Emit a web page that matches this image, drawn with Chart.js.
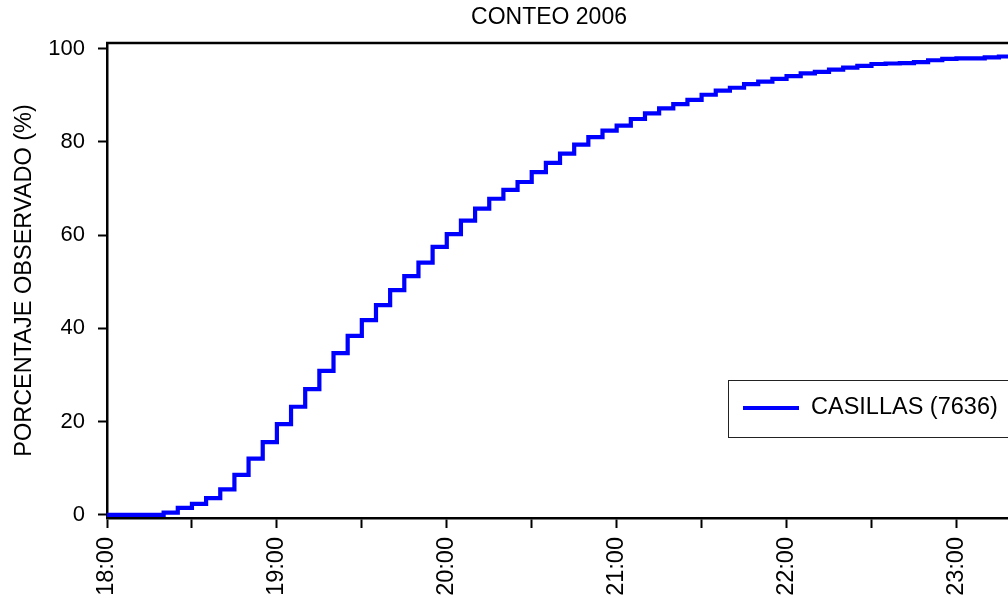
<!DOCTYPE html>
<html><head><meta charset="utf-8">
<script src="https://cdn.jsdelivr.net/npm/chart.js@4.4.0/dist/chart.umd.min.js"></script>
<style>
html,body{margin:0;padding:0;overflow:hidden;background:#fff;width:1008px;height:598px}
#wrap{position:absolute;left:0;top:0;width:1100px;height:598px}
</style>
</head><body><div id="wrap"><canvas id="c" width="1100" height="598"></canvas></div>
<script>
const chartTitle = 'CONTEO 2006';
const yAxisTitle = 'PORCENTAJE OBSERVADO (%)';
const seriesLabel = 'CASILLAS (7636)';

const times = ['18:00','18:05','18:10','18:15','18:20','18:25','18:30','18:35','18:40','18:45','18:50','18:55',
  '19:00','19:05','19:10','19:15','19:20','19:25','19:30','19:35','19:40','19:45','19:50','19:55',
  '20:00','20:05','20:10','20:15','20:20','20:25','20:30','20:35','20:40','20:45','20:50','20:55',
  '21:00','21:05','21:10','21:15','21:20','21:25','21:30','21:35','21:40','21:45','21:50','21:55',
  '22:00','22:05','22:10','22:15','22:20','22:25','22:30','22:35','22:40','22:45','22:50','22:55',
  '23:00','23:05','23:10','23:15','23:20'];
const pct = [0,0,0,0,0.5,1.5,2.4,3.6,5.5,8.6,12.1,15.6,
  19.5,23.2,27.0,30.9,34.7,38.4,41.8,45.0,48.2,51.2,54.1,57.5,
  60.2,63.1,65.7,67.8,69.7,71.4,73.5,75.5,77.5,79.4,81.0,82.4,
  83.5,84.9,86.1,87.2,88.1,89.0,90.1,91.0,91.6,92.4,92.9,93.5,
  94.1,94.7,95.0,95.5,95.9,96.3,96.7,96.8,96.9,97.1,97.5,97.8,
  97.9,97.9,98.1,98.3,98.3];

const xTickLabels = ['18:00','19:00','20:00','21:00','22:00','23:00'];
const yTickValues = [0,20,40,60,80,100];

const toMin = s => { const p = s.split(':').map(Number); return p[0]*60 + p[1]; };
const base = toMin(xTickLabels[0]);
const xMinutes = times.map(t => toMin(t) - base);
const labelMap = {};
xTickLabels.forEach(l => { labelMap[toMin(l) - base] = l; });
const xTickValues = [];
xTickLabels.forEach(l => { const m = toMin(l) - base; xTickValues.push(m, m + 30); });

const FONT = '"Liberation Sans", Arial, sans-serif';

const frame = {
  id: 'frame',
  beforeDatasetsDraw(chart) {
    const {ctx, chartArea: a} = chart;
    ctx.save();
    ctx.strokeStyle = '#000';
    ctx.lineWidth = 2.5;
    ctx.beginPath();
    ctx.moveTo(a.left - 1, a.top);
    ctx.lineTo(a.right, a.top);
    ctx.lineTo(a.right, a.bottom);
    ctx.stroke();
    ctx.restore();
  }
};

const legendBox = {
  id: 'legendBox',
  afterDraw(chart) {
    const ctx = chart.ctx;
    const ds = chart.data.datasets[0];
    ctx.save();
    ctx.fillStyle = '#fff';
    ctx.fillRect(728.5, 380.5, 400, 57);
    ctx.strokeStyle = '#222';
    ctx.lineWidth = 1;
    ctx.strokeRect(728.5, 380.5, 400, 57);
    ctx.strokeStyle = ds.borderColor;
    ctx.lineWidth = 4;
    ctx.beginPath();
    ctx.moveTo(743, 408);
    ctx.lineTo(799, 408);
    ctx.stroke();
    ctx.fillStyle = '#000';
    ctx.font = '23.5px ' + FONT;
    ctx.textBaseline = 'middle';
    ctx.textAlign = 'left';
    ctx.fillText(ds.label, 811, 408);
    ctx.restore();
  }
};

new Chart(document.getElementById('c'), {
  type: 'line',
  data: {
    datasets: [{
      label: seriesLabel,
      data: xMinutes.map((x, i) => ({x: x, y: pct[i]})),
      borderColor: '#0000ff',
      backgroundColor: '#0000ff',
      borderWidth: 4.2,
      stepped: true,
      pointRadius: 0,
      fill: false,
      borderJoinStyle: 'miter',
      borderCapStyle: 'butt'
    }]
  },
  options: {
    responsive: false,
    animation: false,
    devicePixelRatio: 1,
    layout: {padding: {left: 0, right: 2, top: 0, bottom: 0}},
    plugins: {
      legend: {display: false},
      tooltip: {enabled: false},
      title: {
        display: true,
        text: chartTitle,
        color: '#000',
        font: {family: FONT, size: 23, weight: 'normal'},
        padding: {top: 4, bottom: 11.4}
      }
    },
    scales: {
      x: {
        type: 'linear',
        min: 0,
        max: 350,
        afterBuildTicks: s => { s.ticks = xTickValues.map(v => ({value: v})); },
        afterFit: s => { s.height = 80; },
        ticks: {
          autoSkip: false,
          maxRotation: 90,
          minRotation: 90,
          padding: 9,
          color: '#000',
          font: {family: FONT, size: 23.5},
          callback: v => (labelMap[v] !== undefined ? labelMap[v] : '')
        },
        grid: {drawOnChartArea: false, drawTicks: true, tickLength: 10, tickColor: '#000', tickWidth: 2},
        border: {display: true, color: '#000', width: 2.5}
      },
      y: {
        min: -0.65,
        max: 101.2,
        afterBuildTicks: s => { s.ticks = yTickValues.map(v => ({value: v})); },
        afterFit: s => { s.width = 107; },
        ticks: {
          padding: 13,
          color: '#000',
          font: {family: FONT, size: 22}
        },
        grid: {drawOnChartArea: false, drawTicks: true, tickLength: 9, tickColor: '#000', tickWidth: 2},
        border: {display: true, color: '#000', width: 2.5},
        title: {
          display: true,
          text: yAxisTitle,
          color: '#000',
          font: {family: FONT, size: 23.5, weight: 'normal'},
          padding: {top: 10, bottom: 0}
        }
      }
    }
  },
  plugins: [frame, legendBox]
});
</script>
</body></html>
